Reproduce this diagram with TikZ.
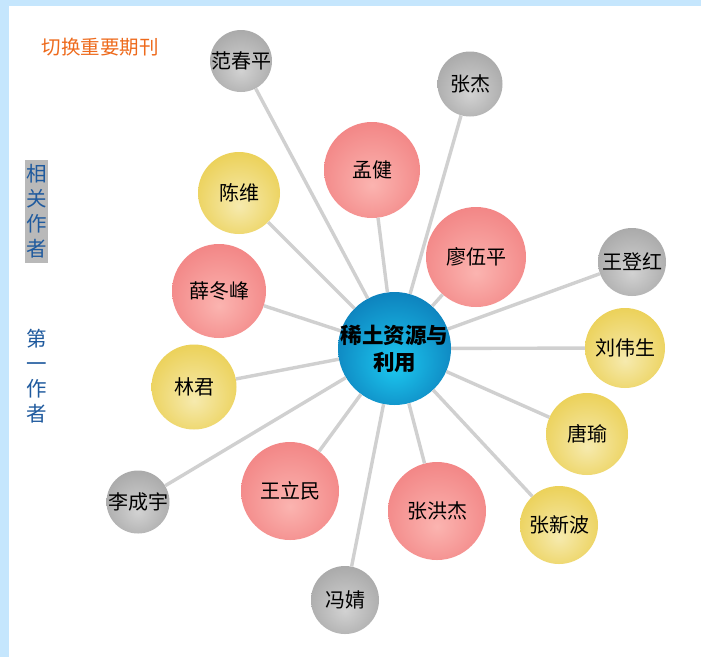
\documentclass[tikz,border=0pt]{standalone}
\usepackage{fontspec}
\setmainfont{Noto Sans CJK SC}
\definecolor{pagebar}{HTML}{C5E6FD}
\definecolor{linkgray}{HTML}{D0D0D0}
\definecolor{labelblue}{HTML}{1F5A9E}
\definecolor{labelorange}{HTML}{EE6A1C}
\definecolor{labelgray}{HTML}{B9B9B9}
\definecolor{rin}{HTML}{FBB4B0}\definecolor{rout}{HTML}{F28484}
\definecolor{yin}{HTML}{F6EAAE}\definecolor{yout}{HTML}{EBD055}
\definecolor{gin}{HTML}{D2D2D2}\definecolor{gout}{HTML}{A8A8A8}
\definecolor{hin}{HTML}{1CC8F0}\definecolor{hout}{HTML}{0D7FBB}
\pgfdeclareradialshading{redball}{\pgfpoint{0bp}{-8bp}}{color(0bp)=(rin);color(30bp)=(rout);color(50bp)=(rout)}
\pgfdeclareradialshading{yellowball}{\pgfpoint{0bp}{-8bp}}{color(0bp)=(yin);color(30bp)=(yout);color(50bp)=(yout)}
\pgfdeclareradialshading{grayball}{\pgfpoint{0bp}{-8bp}}{color(0bp)=(gin);color(30bp)=(gout);color(50bp)=(gout)}
\pgfdeclareradialshading{hubball}{\pgfpoint{0bp}{-8bp}}{color(0bp)=(hin);color(30bp)=(hout);color(50bp)=(hout)}
\newcommand{\zw}[1]{\makebox[0pt][c]{#1}}
\tikzset{
  bubble/.style={circle,inner sep=0pt,text=black,font=\fontsize{20}{24}\selectfont,minimum size=#1},
  redb/.style={bubble=#1,shading=redball},
  yelb/.style={bubble=#1,shading=yellowball},
  grayb/.style={bubble=#1,shading=grayball},
  hubb/.style={circle,inner sep=0pt,minimum size=113,align=center,shading=hubball,
    font=\fontsize{21.5}{27}\selectfont\bfseries,text=black},
  link/.style={draw=linkgray,line width=3.4},
  sidelabel/.style={inner sep=0pt,minimum width=23,minimum height=103,align=center,text=labelblue,
    font=\fontsize{20.5}{25}\selectfont},
}
\begin{document}
\begin{tikzpicture}[x=1pt,y=-1pt]
\useasboundingbox (0,0) rectangle (701,657);
\fill[pagebar] (0,0) rectangle (701,657);
\fill[white] (9,6) rectangle (701,657);
\node[text=labelorange,inner sep=0pt,font=\fontsize{19.5}{24}\selectfont] (switch) at (100,47) {切换重要期刊};
\node[sidelabel,fill=labelgray] (related) at (36.5,211.5) {相\\关\\作\\者};
\node[sidelabel] (first) at (36.5,376) {第\\一\\作\\者};
\node[hubb] (hub) at (394.5,348.5) {\zw{稀土资源与}\\\zw{利用}};
\node[grayb=62] (a1) at (241,61) {\zw{范春平}};
\node[grayb=65] (a2) at (470,84) {\zw{张杰}};
\node[redb=96] (a3) at (372,170) {\zw{孟健}};
\node[redb=100] (a4) at (476,257) {\zw{廖伍平}};
\node[yelb=82] (a5) at (239,193) {\zw{陈维}};
\node[grayb=68] (a6) at (632,262) {\zw{王登红}};
\node[redb=94] (a7) at (219,291) {\zw{薛冬峰}};
\node[yelb=80] (a8) at (625,348) {\zw{刘伟生}};
\node[yelb=85] (a9) at (194,387) {\zw{林君}};
\node[yelb=82] (a10) at (587,434) {\zw{唐瑜}};
\node[grayb=63] (a11) at (138,502) {\zw{李成宇}};
\node[redb=98] (a12) at (290,491) {\zw{王立民}};
\node[redb=98] (a13) at (437,511) {\zw{张洪杰}};
\node[yelb=78] (a14) at (559,525) {\zw{张新波}};
\node[grayb=68] (a15) at (345,600) {\zw{冯婧}};
\foreach \n in {a1,a2,a3,a4,a5,a6,a7,a8,a9,a10,a11,a12,a13,a14,a15}
  \draw[link] (hub) -- (\n);
\end{tikzpicture}
\end{document}
